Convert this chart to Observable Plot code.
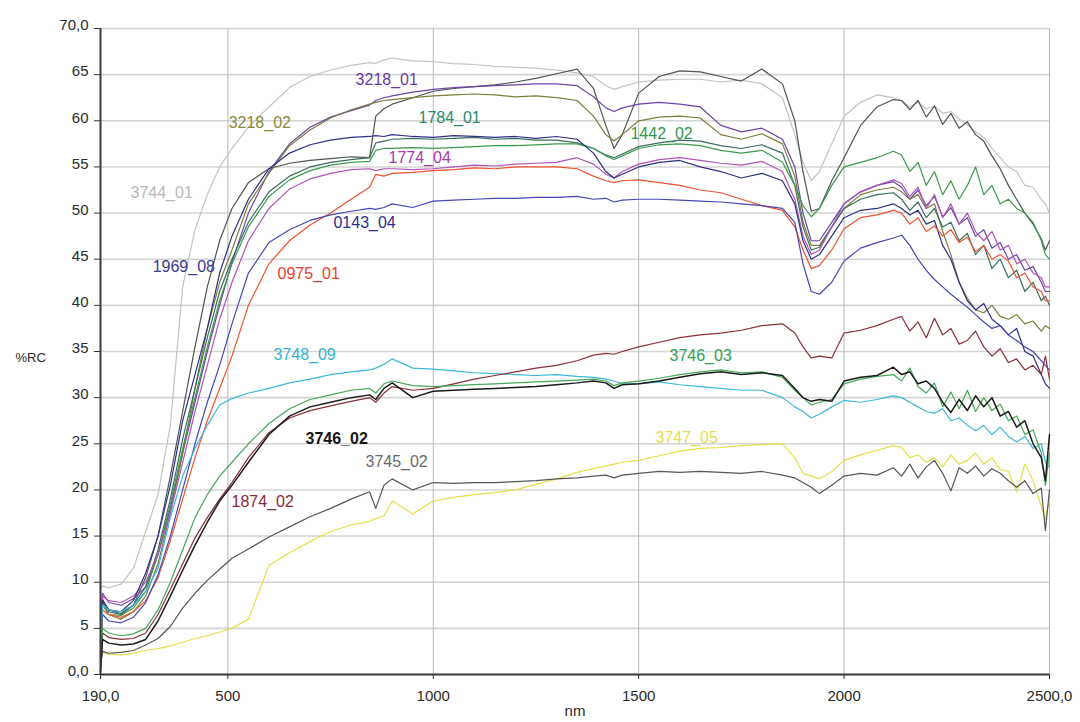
<!DOCTYPE html>
<html><head><meta charset="utf-8">
<script src="https://cdn.jsdelivr.net/npm/d3@7"></script>
<script src="https://cdn.jsdelivr.net/npm/@observablehq/plot@0.6"></script>
<style>
html,body{margin:0;padding:0;background:#fff;}
#chart{width:1080px;height:722px;}
</style></head><body><div id="chart"></div>
<script>
const wavelengths = [190,195,210,240,270,300,330,360,390,420,450,480,510,550,600,650,700,750,800,845,860,880,900,950,1000,1050,1100,1150,1200,1250,1300,1350,1390,1420,1440,1460,1500,1550,1600,1650,1700,1750,1800,1850,1880,1900,1920,1940,1970,2000,2040,2080,2120,2140,2160,2180,2200,2220,2240,2260,2280,2300,2320,2340,2360,2380,2400,2420,2440,2460,2480,2490,2500];

const s3744_01 = [9.2,9.6,9.4,9.8,11.5,15.5,19.5,27,42,48.2,
 52,55,57,59.3,61.5,63.6,64.8,65.5,66,66.3,
 66.2,66.6,66.8,66.5,66.4,66.2,66.1,65.9,65.8,65.7,
 65.5,65.2,64.8,63.8,63.4,63.7,64.2,64.4,64.5,64.5,
 64.2,64.4,64,62.5,58.5,55.5,53.5,54.5,57.5,60.5,
 62,62.8,62.5,62.2,61.5,62,61.3,61.6,60.8,61,
 60.2,59.6,58.8,58.2,57,56,55,54.5,53,52.8,
 51.5,51,50];
const sDark = [1,8.2,6.8,6.5,7.5,10.5,15,21.5,28.5,35.5,
 42,47,50.5,53.3,54.8,55.4,55.7,55.9,56.1,56,
 60.5,61.3,61.8,62.5,63.2,63.5,63.7,63.9,64.2,64.6,
 65.1,65.6,63.5,59.5,57,58.5,63,64.8,65.4,65.3,
 64.8,64.3,65.6,64,60,54.5,50.2,50.5,53.5,56,
 59.5,61.5,62.3,62.2,61.2,62.2,60.4,61.6,59.6,60.8,
 59.2,59.9,58.5,57.8,56.2,54.8,53,51.5,50,48.8,
 47.2,46,47];
const s3218_01 = [6.5,8.8,7.8,7.5,8.2,9.5,13,18,24,29.5,
 35,40,44.7,50,54.5,57.5,59.3,60.4,61.1,61.7,
 62.2,62.5,62.7,63.1,63.4,63.6,63.7,63.8,63.9,64,
 64,63.8,62.6,61.4,61,61.4,61.8,62,61.8,61.5,
 59.5,58.8,59.2,58,55,50,47,47,49,51,
 52.3,53,53.4,52.8,51.5,52.5,50.8,51.8,49.6,50.6,
 48.8,49.5,47.5,48.2,46.2,46.8,45,45.5,43.8,44.2,
 42.5,41.5,41.5];
const s3218_02 = [5,7.5,6.5,6,6.8,8.5,12,17.5,24,31,
 37.5,42.5,46,51,54.3,57.3,59,60.3,61.2,61.8,
 62,62.2,62.3,62.5,62.7,62.8,62.9,62.8,62.6,62.7,
 62.5,62.2,60.5,58.5,57.8,58.5,60,60.4,60.5,60.3,
 58.5,58,58.6,57.5,54,49,46.5,46.5,48.5,50.5,
 52,52.5,52.8,52.3,51.5,52,50.5,51,48,45.5,
 42.5,40.8,39.5,39.2,40,38.8,38.5,39,38,38.3,
 37.2,37.8,37.5];
const s1784_01 = [2,8,7,6.6,7.5,9.5,13.5,19,25.5,31,
 36.5,41.5,45,49,52.3,54,55,55.5,55.8,56,
 57.6,57.8,58,58.1,58,58.1,58.2,58,58.1,57.9,
 57.9,57.6,57,56.3,56,56.4,57.2,57.6,57.9,57.8,
 57.3,57,57.4,56.5,53,48.5,46,46.3,48.5,50.5,
 51.5,52,52.2,51.5,50.3,51.2,49.5,50.5,48.5,49,
 47,47.8,45.5,46.5,44,45,43,43.8,41.5,42.5,
 40.5,41,40];
const s1442_02 = [0.5,7.8,6.5,6.4,7.2,9,13,18.5,24.5,30,
 35.5,40.5,44.5,48.5,51.8,53.6,54.6,55.2,55.5,55.6,
 56.8,57,57,57.1,57,57.1,57.2,57.3,57.3,57.4,
 57.5,57.5,57,56.2,55.8,56.2,57,57.4,57.5,57.3,
 56.8,56.5,56.8,55.5,53,50.8,49.6,50.5,53,55,
 55.5,56,56.7,56.3,54.5,55.5,53,54.5,52,53.5,
 51.5,53,55,52,53,51,51.5,50.5,50,49,
 47,45.5,45];
const s1774_04 = [3,8.5,8,7.8,8.5,10,13,17.5,23,28.5,
 33.5,38.5,42.5,47,50.5,52.6,53.7,54.3,54.7,54.8,
 54.6,54.8,54.8,54.7,54.8,55,55.2,55.1,55.3,55.4,
 55.5,56,55.3,54.2,53.8,54.5,55.3,55.8,56,55.7,
 55.4,55.2,55.6,54.5,51.5,47.5,45.5,46,48.5,51,
 52.3,53,53.6,53.2,51.8,52.8,50.5,52,49.5,51,
 48.8,50,48,47,48,46,46.5,44.5,45,43.5,
 43,42,42];
const s1969_08 = [4,8,7,6.8,8,11,15,20.5,27.5,32.5,
 37.5,43.5,47.5,51.5,54.8,56.5,57.4,57.9,58.2,58.3,
 58.4,58.3,58.5,58.3,58.2,58.4,58.3,58.2,58.3,58.1,
 58.3,58,56.5,54.5,53.8,54.2,55,55.5,55.7,55,
 54.5,53.8,54.3,53.5,51,47,45,45.5,47.5,49.5,
 50.3,50.5,51,50.5,49.8,50.3,48.8,49.2,46.5,45,
 42.5,40.5,39.5,40.2,38.5,37.8,36.8,37.5,35,34.5,
 32.5,31.5,31];
const s0975_01 = [2,7,6.5,6.2,6.8,8,10.5,14.5,19,23.5,
 27.5,31,34.5,40,44.5,47,48.7,50,51.5,52.8,
 54.2,54,54.3,54.4,54.6,54.7,54.9,54.8,55,55,
 55,54.8,54,53.5,53.3,53.5,53.6,53.3,53,52.5,
 52.2,51.5,50.8,50.3,48.5,46,44,44.3,46,48.3,
 49.5,49.8,50.3,50,48.8,49.5,48,48.6,47.5,48.2,
 46.8,47.4,45.8,46.5,45,45.5,44.8,43,43.5,42,
 41.5,40.5,40.5];
const s0143_04 = [3,6.5,5.8,5.6,6.2,7.8,10.8,15,20,25,
 29.5,33.5,38,43.5,46.8,48.2,49.2,49.8,50.2,50.5,
 50.4,50.6,51,50.6,51.3,51.4,51.5,51.6,51.6,51.7,
 51.7,51.8,51.5,51.6,51.2,51.4,51.5,51.5,51.4,51.3,
 51.2,51,50.8,50.5,49,44.5,41.5,41.2,42.5,44.8,
 46.2,46.8,47.3,47.6,46.5,45,43.8,42.8,42,41.2,
 40.5,39.8,39,38.2,37.5,37.8,36.8,36.2,35.5,35,
 34,33.5,33];
const s3748_09 = [3,7.5,7,6.8,7.5,9,11.5,17,21.5,24.5,
 27,29.2,29.9,30.5,31,31.6,32,32.5,32.8,33,
 33.2,33.6,34.2,33.2,33.1,32.9,32.7,32.6,32.5,32.4,
 32.5,32.3,32.2,32,31.8,31.5,31.5,31.7,31.4,31.2,
 31,30.8,30.8,30,29,28.5,27.8,28.2,29,29.7,
 29.5,29.8,30.2,30,29.5,29,28.5,28.3,28.8,27.5,
 27.8,27,26.4,27,26,26.8,25.8,25.2,25.8,24.5,
 25,23,22.5];
const s3747_05 = [1.5,2.4,2.2,2.1,2.3,2.6,2.8,3.1,3.5,3.9,
 4.2,4.6,5,6,11.8,13.2,14.4,15.5,16.2,16.6,
 16.9,17.2,18.8,17.4,18.8,19.2,19.5,19.7,20,20.6,
 21.2,21.9,22.3,22.6,22.8,23,23.2,23.7,24.2,24.5,
 24.6,24.8,24.9,25,23.5,21.8,21.5,21.2,22,23.2,
 23.8,24.3,24.8,24.6,23.5,23.8,23,23.5,22.5,23.8,
 22.8,23.2,24,22.8,23.5,22.2,22,19.8,22.8,21,
 18.2,16.8,19];
const s3745_02 = [1,2.5,2.3,2.4,2.6,3.2,3.9,5.2,7.2,8.8,
 10.2,11.4,12.6,13.6,14.9,16,17.1,18,19,19.8,
 18,20.5,21.2,20,20.8,20.7,20.8,20.8,20.9,21,
 21.2,21.3,21.5,21.6,21.3,21.6,21.8,22,21.9,22,
 21.9,21.8,22,21.6,21.3,20.8,20.3,19.6,20.5,21.5,
 21.8,21.6,22.4,21.5,22.8,21.3,22.5,23.2,21.8,19.9,
 22.4,21.8,22.6,21.5,22.3,21.8,21,20.3,21,19.6,
 20.2,15.6,20];
const s1874_02 = [0.8,4.5,4,3.8,3.9,4.5,6.5,9.2,12,14.8,
 17,19,20.8,23.5,26.2,27.8,28.6,29.1,29.6,30,
 29.5,30.5,31.2,30.8,31,31.5,32,32.4,32.8,33.2,
 33.5,34,34.6,34.8,34.7,35,35.5,36,36.5,36.8,
 37,37.3,37.8,38,37,35.5,34.3,34.5,34.3,37,
 37.3,37.8,38.5,38.8,37.2,38.2,36.5,38.6,36.8,37.5,
 35.8,36.2,37.2,35.5,34.5,35.3,33.8,34.2,33,33.5,
 32.5,34.5,32];
const s3746_03 = [1,5,4.5,4.2,4.4,5,7,10,13.5,17,
 19.5,21.5,23,25,27.2,28.8,29.8,30.3,30.8,31,
 30.5,31.5,31.8,31.3,31.2,31.3,31.4,31.5,31.6,31.7,
 31.8,31.9,32,31.8,31.3,31.6,31.8,32.1,32.5,32.8,
 33,32.7,32.8,32.2,30.8,30,29.2,29.5,29.8,31.5,
 32,32.3,32.5,31.8,33.2,31.2,30.5,31.6,29,30.6,
 28.8,30.8,28.5,30,28.6,29.3,27.5,28,26,26.5,
 24,20.5,24];
const s3746_02 = [0.3,3.8,3.4,3.2,3.3,3.8,5.8,8.5,11.3,14,
 16.5,18.8,20.5,23,26,28,29,29.5,30,30.3,
 29.8,31,31.6,30,30.7,30.8,30.9,31,31.1,31.2,
 31.4,31.6,31.8,31.6,31,31.4,31.5,31.8,32.2,32.6,
 32.8,32.5,32.7,32.4,31,30,29.6,29.8,29.6,31.8,
 32.2,32.4,33.3,32.5,32.8,31.5,31.8,31,29.5,28.4,
 29.8,28.6,30.2,29,30,28,28.5,26.8,27.5,25,
 23.5,21,26];

const seriesNames = ["3744_01","dark","3218_01","3218_02","1784_01","1442_02","1774_04","1969_08","0975_01","0143_04","3748_09","3747_05","3745_02","1874_02","3746_03","3746_02"];
const seriesColors = ["#c2c2c2","#4d5650","#6b44a8","#7d7d3c","#3b6e5f","#3d9b50","#b054b8","#2f2f86","#f0522f","#4646b6","#3cb8d8","#e6df4a","#575757","#8b2f3a","#45a85a","#1b1b1b"];
const seriesValues = [s3744_01,sDark,s3218_01,s3218_02,s1784_01,s1442_02,s1774_04,s1969_08,s0975_01,s0143_04,s3748_09,s3747_05,s3745_02,s1874_02,s3746_03,s3746_02];

const labelTexts = ["3744_01","3218_01","3218_02","1784_01","1442_02","1774_04","0143_04","1969_08","0975_01","3748_09","3746_03","3746_02","3747_05","3745_02","1874_02"];
const labelNm = [263,811,502,964,1480,891,757,317,621,611,1575,689,1541,835,509];
const labelValue = [52.2,64.4,59.8,60.3,58.6,56,48.9,44.2,43.4,34.6,34.5,25.5,25.6,23,18.7];
const labelColors = ["#b8b8b8","#6a3aa5","#8a8a3a","#2e8a6e","#2f9a4f","#a63ca6","#2c2c8c","#3a3a8f","#e8412b","#33b3d3","#2fa153","#151515","#e5dc55","#6a6a6a","#8b2a3a"];
const labelBold = [false,false,false,false,false,false,false,false,false,false,false,true,false,false,false];

const xTicks = [190,500,1000,1500,2000,2500];
const xTickLabels = ["190,0","500","1000","1500","2000","2500,0"];
const yTicks = [0,5,10,15,20,25,30,35,40,45,50,55,60,65,70];
const yTickLabels = ["0,0","5","10","15","20","25","30","35","40","45","50","55","60","65","70,0"];

const rows = [];
seriesNames.forEach((name, k) => {
  seriesValues[k].forEach((v, i) => rows.push({series: name, nm: wavelengths[i], value: v}));
});
const labelRows = labelTexts.map((t, i) => ({text: t, nm: labelNm[i], value: labelValue[i], color: labelColors[i], bold: labelBold[i]}));

const lineMarks = seriesNames.map((name, k) =>
  Plot.line(rows.filter(r => r.series === name), {x: "nm", y: "value", stroke: seriesColors[k], strokeWidth: name === "3746_02" ? 1.5 : 1.2})
);

const font = "'Liberation Sans', Arial, sans-serif";
const chart = Plot.plot({
  width: 1080, height: 722,
  marginLeft: 100, marginRight: 31, marginTop: 28, marginBottom: 48,
  style: {fontFamily: font, background: "#fff"},
  x: {domain: [190, 2500]},
  y: {domain: [0, 70]},
  marks: [
    Plot.gridY(yTicks, {stroke: "#d4d4d4", strokeOpacity: 1, strokeWidth: 1.6}),
    Plot.gridX(xTicks.slice(1), {stroke: "#b8b8b8", strokeOpacity: 1, strokeWidth: 1}),
    ...lineMarks,
    Plot.ruleX([190], {stroke: "#3a3a3a", strokeWidth: 2}),
    Plot.ruleY([0], {stroke: "#3a3a3a", strokeWidth: 2}),
    Plot.axisY(yTicks, {tickSize: 6, tickFormat: () => "", stroke: "#333", label: null}),
    Plot.axisY(yTicks, {tickSize: 0, tickPadding: 12, dy: -3, fontSize: 15, fill: "#2a2a2a", label: null, tickFormat: d => yTickLabels[yTicks.indexOf(d)]}),
    Plot.axisX(xTicks, {tickSize: 5, tickPadding: 11, fontSize: 15, fill: "#2a2a2a", stroke: "#333", label: null, tickFormat: d => xTickLabels[xTicks.indexOf(d)]}),
    Plot.text(labelRows.filter(d => !d.bold), {x: "nm", y: "value", text: "text", fill: "color", textAnchor: "start", fontSize: 16}),
    Plot.text(labelRows.filter(d => d.bold), {x: "nm", y: "value", text: "text", fill: "color", textAnchor: "start", fontSize: 16, fontWeight: "bold"}),
    Plot.text(["%RC"], {frameAnchor: "left", dx: -85, dy: 6, textAnchor: "start", fontSize: 13, fill: "#2a2a2a"}),
    Plot.text(["nm"], {frameAnchor: "bottom", dy: 41, fontSize: 15, fill: "#2a2a2a"})
  ]
});
document.getElementById("chart").appendChild(chart);
</script>
</body></html>
